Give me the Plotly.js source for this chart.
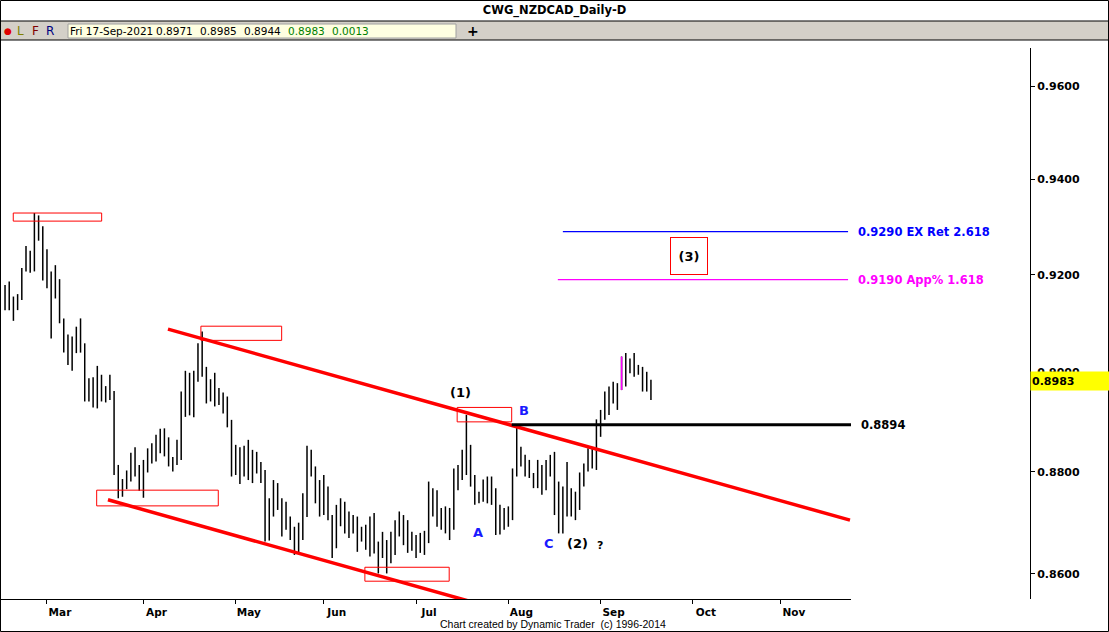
<!DOCTYPE html>
<html><head><meta charset="utf-8">
<script src="https://cdn.plot.ly/plotly-3.0.1.min.js"></script>
<style>html,body{margin:0;padding:0;background:#fff;}#chart{width:1109px;height:632px;}</style>
</head><body><div id="chart"></div>
<script>
// ---- data ----
const dates = [
'2021-02-15','2021-02-16','2021-02-17','2021-02-18','2021-02-19','2021-02-22','2021-02-23','2021-02-24','2021-02-25','2021-02-26',
'2021-03-01','2021-03-02','2021-03-03','2021-03-04','2021-03-05','2021-03-08','2021-03-09','2021-03-10','2021-03-11','2021-03-12',
'2021-03-15','2021-03-16','2021-03-17','2021-03-18','2021-03-19','2021-03-22','2021-03-23','2021-03-24','2021-03-25','2021-03-26',
'2021-03-29','2021-03-30','2021-03-31',
'2021-04-01','2021-04-02','2021-04-05','2021-04-06','2021-04-07','2021-04-08','2021-04-09','2021-04-12','2021-04-13','2021-04-14',
'2021-04-15','2021-04-16','2021-04-19','2021-04-20','2021-04-21','2021-04-22','2021-04-23','2021-04-26','2021-04-27','2021-04-28',
'2021-04-29','2021-04-30',
'2021-05-03','2021-05-04','2021-05-05','2021-05-06','2021-05-07','2021-05-10','2021-05-11','2021-05-12','2021-05-13','2021-05-14',
'2021-05-17','2021-05-18','2021-05-19','2021-05-20','2021-05-21','2021-05-24','2021-05-25','2021-05-26','2021-05-27','2021-05-28',
'2021-05-31',
'2021-06-01','2021-06-02','2021-06-03','2021-06-04','2021-06-07','2021-06-08','2021-06-09','2021-06-10','2021-06-11','2021-06-14',
'2021-06-15','2021-06-16','2021-06-17','2021-06-18','2021-06-21','2021-06-22','2021-06-23','2021-06-24','2021-06-25','2021-06-28',
'2021-06-29','2021-06-30',
'2021-07-01','2021-07-02','2021-07-05','2021-07-06','2021-07-07','2021-07-08','2021-07-09','2021-07-12','2021-07-13','2021-07-14',
'2021-07-15','2021-07-16','2021-07-19','2021-07-20','2021-07-21','2021-07-22','2021-07-23','2021-07-26','2021-07-27','2021-07-28',
'2021-07-29','2021-07-30',
'2021-08-02','2021-08-03','2021-08-04','2021-08-05','2021-08-06','2021-08-09','2021-08-10','2021-08-11','2021-08-12','2021-08-13',
'2021-08-16','2021-08-17','2021-08-18','2021-08-19','2021-08-20','2021-08-23','2021-08-24','2021-08-25','2021-08-26','2021-08-27',
'2021-08-30','2021-08-31',
'2021-09-01','2021-09-02','2021-09-03','2021-09-06','2021-09-07','2021-09-08','2021-09-09','2021-09-10','2021-09-13','2021-09-14',
'2021-09-15','2021-09-16','2021-09-17'
];
const opens = [
.9133,.9130,.9152,.9131,.9149,.9210,.9238,.9234,.9301,.9288,
.9210,.9184,.9203,.9167,.9103,.9058,.9030,.9045,.9079,.9052,
.8951,.8979,.8944,.8966,.8953,.8948,.8961,.8811,.8763,.8776,
.8791,.8811,.8812,
.8769,.8800,.8830,.8837,.8865,.8862,.8849,.8823,.8823,.8840,
.8936,.8990,.8984,.8983,.9039,.9008,.8966,.8964,.8963,.8936,
.8931,.8890,
.8798,.8841,.8830,.8850,.8790,.8837,.8801,.8801,.8676,.8718,
.8763,.8741,.8735,.8702,.8679,.8676,.8674,.8712,.8824,.8794,
.8764,
.8755,.8712,.8712,.8650,.8719,.8725,.8705,.8712,.8702,.8666,
.8666,.8676,.8654,.8650,.8640,.8647,.8621,.8663,.8696,.8679,
.8700,.8650,
.8665,.8645,.8660,.8663,.8733,.8755,.8712,.8705,.8692,.8689,
.8794,.8803,.8840,.8850,.8771,.8748,.8748,.8757,.8771,.8760,
.8692,.8727,
.8700,.8709,.8798,.8850,.8834,.8811,.8794,.8768,.8771,.8766,
.8811,.8825,.8738,.8709,.8712,.8755,.8719,.8738,.8784,.8811,
.8844,.8811,
.8884,.8918,.8922,.8962,.8944,.8964,.8998,.9001,.9015,.9001,
.9005,.8962,.8971
];
const highs = [
.9179,.9186,.9155,.9160,.9214,.9260,.9250,.9329,.9324,.9301,
.9253,.9207,.9220,.9191,.9110,.9077,.9073,.9093,.9110,.9059,
.8988,.8990,.9013,.8995,.8972,.8995,.8962,.8814,.8786,.8803,
.8838,.8849,.8814,
.8824,.8847,.8857,.8874,.8886,.8887,.8869,.8830,.8864,.8961,
.9003,.8999,.9003,.9059,.9083,.9011,.8986,.8999,.8968,.8959,
.8951,.8904,
.8854,.8849,.8852,.8864,.8844,.8840,.8820,.8804,.8748,.8784,
.8778,.8748,.8741,.8712,.8692,.8700,.8758,.8852,.8844,.8811,
.8784,
.8794,.8771,.8715,.8735,.8748,.8741,.8722,.8715,.8712,.8692,
.8696,.8712,.8719,.8663,.8682,.8666,.8682,.8705,.8722,.8715,
.8705,.8682,
.8676,.8680,.8684,.8781,.8768,.8764,.8729,.8732,.8729,.8807,
.8814,.8844,.8914,.8854,.8794,.8761,.8785,.8791,.8791,.8768,
.8735,.8729,
.8732,.8807,.8894,.8850,.8834,.8824,.8798,.8824,.8814,.8824,
.8834,.8840,.8781,.8771,.8820,.8768,.8761,.8799,.8817,.8847,
.8847,.8905,
.8924,.8961,.8971,.8981,.8978,.9032,.9039,.9028,.9039,.9015,
.9011,.9001,.8985
];
const lows = [
.9127,.9127,.9105,.9127,.9148,.9207,.9204,.9207,.9271,.9188,
.9172,.9069,.9151,.9100,.9040,.9015,.9003,.9039,.9040,.8941,
.8941,.8929,.8927,.8941,.8939,.8944,.8794,.8748,.8751,.8766,
.8781,.8791,.8763,
.8749,.8799,.8817,.8821,.8837,.8831,.8811,.8801,.8814,.8824,
.8910,.8913,.8909,.8981,.8991,.8937,.8941,.8931,.8934,.8917,
.8889,.8791,
.8794,.8776,.8791,.8784,.8778,.8797,.8778,.8663,.8665,.8712,
.8725,.8673,.8686,.8666,.8637,.8640,.8666,.8711,.8791,.8738,
.8712,
.8715,.8705,.8631,.8650,.8693,.8679,.8670,.8679,.8643,.8663,
.8647,.8634,.8640,.8601,.8631,.8601,.8621,.8637,.8673,.8656,
.8641,.8645,
.8631,.8641,.8637,.8660,.8712,.8692,.8686,.8679,.8666,.8686,
.8764,.8784,.8794,.8771,.8735,.8738,.8741,.8738,.8735,.8676,
.8677,.8686,
.8692,.8705,.8791,.8811,.8791,.8788,.8768,.8768,.8755,.8764,
.8791,.8715,.8679,.8679,.8712,.8712,.8705,.8725,.8771,.8801,
.8807,.8804,
.8870,.8904,.8914,.8937,.8924,.8964,.8971,.8998,.8991,.8995,
.8961,.8961,.8944
];
const closes = [
.9129,.9153,.9131,.9149,.9206,.9240,.9234,.9303,.9286,.9212,
.9186,.9204,.9169,.9105,.9059,.9028,.9045,.9079,.9058,.8944,
.8979,.8944,.8964,.8952,.8944,.8960,.8812,.8763,.8776,.8791,
.8811,.8813,.8771,
.8799,.8830,.8830,.8865,.8864,.8847,.8817,.8823,.8840,.8936,
.8990,.8988,.8910,.9020,.9069,.9005,.8964,.8956,.8936,.8931,
.8890,.8792,
.8841,.8830,.8847,.8786,.8824,.8801,.8801,.8682,.8718,.8763,
.8763,.8682,.8719,.8679,.8647,.8674,.8712,.8824,.8794,.8739,
.8755,
.8764,.8709,.8650,.8719,.8725,.8705,.8712,.8702,.8666,.8668,
.8676,.8654,.8650,.8640,.8647,.8621,.8663,.8696,.8679,.8700,
.8650,.8665,
.8645,.8660,.8663,.8733,.8755,.8715,.8705,.8692,.8689,.8794,
.8803,.8840,.8850,.8771,.8748,.8748,.8755,.8771,.8760,.8692,
.8727,.8700,
.8712,.8792,.8850,.8834,.8811,.8794,.8768,.8811,.8764,.8807,
.8827,.8738,.8709,.8709,.8771,.8719,.8738,.8784,.8811,.8844,
.8811,.8884,
.8920,.8925,.8964,.8944,.8964,.8998,.9001,.9015,.9001,.9005,
.8962,.8971,.8983
];
const highlightDates = ['2021-09-08'];

const monthTickDates = ['2021-03-01','2021-04-01','2021-05-03','2021-06-01','2021-07-01','2021-08-02','2021-09-01','2021-10-01','2021-11-01'];
const monthLabels = ['Mar','Apr','May','Jun','Jul','Aug','Sep','Oct','Nov'];
const priceTicks = [0.86, 0.88, 0.90, 0.92, 0.94, 0.96];
const priceTickLabels = ['0.8600','0.8800','0.9000','0.9200','0.9400','0.9600'];

// channel trendlines
const upperTrendDates = ['2021-04-09 08:24', '2021-11-23 23:00'];
const upperTrendPrices = [0.9088, 0.8705];
const lowerTrendDates = ['2021-03-22 01:00', '2021-07-20 08:38'];
const lowerTrendPrices = [0.8745, 0.8547];

// horizontal projection levels
const levelValues = [0.9290, 0.9190, 0.8894];
const levelStarts = ['2021-08-19 12:00', '2021-08-18 07:12', '2021-08-03 07:12'];
const levelEnds = ['2021-11-23 12:00', '2021-11-23 12:00', '2021-11-26 12:00'];
const levelTexts = ['0.9290 EX Ret 2.618', '0.9190 App% 1.618', '0.8894'];

// highlight boxes at pivots
const boxStarts = ['2021-02-17 11:00', '2021-04-21 04:48', '2021-03-17 08:24', '2021-06-15 07:12', '2021-07-15 07:12'];
const boxEnds   = ['2021-03-18 13:00', '2021-05-18 11:00', '2021-04-27 08:10', '2021-07-13 09:36', '2021-08-03 07:12'];
const boxTops   = [0.9329, 0.9094, 0.8764, 0.8613, 0.8929];
const boxBottoms= [0.9312, 0.9065, 0.8733, 0.8586, 0.8900];

// wave labels
const waveTexts  = ['(1)', 'A', 'B', 'C', '(2)', '?'];
const waveDates  = ['2021-07-16 00:00', '2021-07-22 07:12', '2021-08-06 04:48', '2021-08-16 04:48', '2021-08-25 02:24', '2021-09-01 08:24'];
const wavePrices = [0.8960, 0.8680, 0.8922, 0.8660, 0.8660, 0.8656];
const waveIsBlue = [false, true, true, true, false, false];
const target3Text = '(3)', target3Date = '2021-09-30 14:24', target3Price = 0.9239;

const lastBar = {date:'Fri 17-Sep-2021', o:'0.8971', h:'0.8985', l:'0.8944', c:'0.8983', chg:'0.0013'};
const lastClose = 0.8983;

// ---- helpers ----
const W = 1109, H = 632, T = 48, B = 33;
const PX = x => x / W;
const PY = y => (H - B - y) / (H - T - B);
const noon = d => d + ' 12:00';
const FONT = 'DejaVu Sans';

const xs = dates.map(noon);
const hiIdx = dates.map((d,i)=>highlightDates.includes(d)?i:-1).filter(i=>i>=0);

const traces = [];
traces.push({
  type:'ohlc', x:xs, open:opens, high:highs, low:lows, close:closes,
  increasing:{line:{color:'#000', width:1.5}}, decreasing:{line:{color:'#000', width:1.5}},
  tickwidth:0.5, hoverinfo:'skip', showlegend:false
});
traces.push({
  type:'ohlc', x:hiIdx.map(i=>xs[i]), open:hiIdx.map(i=>opens[i]), high:hiIdx.map(i=>highs[i]),
  low:hiIdx.map(i=>lows[i]), close:hiIdx.map(i=>closes[i]),
  increasing:{line:{color:'#ff00ff', width:1.5}}, decreasing:{line:{color:'#ff00ff', width:1.5}},
  tickwidth:0.5, hoverinfo:'skip', showlegend:false
});
traces.push({type:'scatter', mode:'lines', x:upperTrendDates, y:upperTrendPrices, line:{color:'#ff0000', width:3.5}, hoverinfo:'skip', showlegend:false});
traces.push({type:'scatter', mode:'lines', x:lowerTrendDates, y:lowerTrendPrices, line:{color:'#ff0000', width:3.5}, hoverinfo:'skip', showlegend:false});
const levelColors = ['#0000ff', '#ff00ff', '#000000'];
const levelWidths = [1.3, 1.3, 3];
levelValues.forEach((v,i)=>{
  traces.push({type:'scatter', mode:'lines', x:[levelStarts[i], levelEnds[i]], y:[v, v],
    line:{color:levelColors[i], width:levelWidths[i]}, hoverinfo:'skip', showlegend:false});
});

const shapes = [];
// chart chrome
shapes.push({type:'rect', xref:'paper', yref:'paper', x0:0, x1:1, y0:PY(40), y1:PY(21), fillcolor:'#d4d0c8', line:{width:0}, layer:'below'});
shapes.push({type:'line', xref:'paper', yref:'paper', x0:0, x1:1, y0:PY(21), y1:PY(21), line:{color:'#000', width:1}});
shapes.push({type:'line', xref:'paper', yref:'paper', x0:0, x1:1, y0:PY(40), y1:PY(40), line:{color:'#000', width:1}});
shapes.push({type:'rect', xref:'paper', yref:'paper', x0:PX(68), x1:PX(456), y0:PY(38), y1:PY(24), fillcolor:'#ffffe1', line:{color:'#a0a0a0', width:1}});
shapes.push({type:'rect', xref:'paper', yref:'paper', x0:PX(0.5), x1:PX(1108.5), y0:PY(631.5), y1:PY(0.5), line:{color:'#000', width:1}});
// pivot boxes
boxStarts.forEach((s,i)=>{
  shapes.push({type:'rect', xref:'x', yref:'y', x0:s, x1:boxEnds[i], y0:boxBottoms[i], y1:boxTops[i],
    line:{color:'#ff0000', width:1}, fillcolor:'rgba(0,0,0,0)'});
});

const L10 = Math.log10;
const ann = [];
waveTexts.forEach((t,i)=>{
  ann.push({xref:'x', yref:'y', x:waveDates[i], y:L10(wavePrices[i]), text:t, showarrow:false,
    font:{family:FONT, size: t==='?'?11:13, weight:'bold', color: waveIsBlue[i]?'#1a1aff':'#000'}});
});
ann.push({xref:'x', yref:'y', x:target3Date, y:L10(target3Price), text:target3Text, showarrow:false,
  font:{family:FONT, size:13, weight:'bold', color:'#000'}, bordercolor:'#ff0000', borderwidth:1, bgcolor:'#fff',
  width:34, height:34, align:'center', valign:'middle'});
levelValues.forEach((v,i)=>{
  ann.push({xref:'paper', yref:'y', x:PX(i===2?859:856), xanchor:'left', y:L10(v), yanchor:'middle', text:levelTexts[i],
    showarrow:false, font:{family:FONT, size:11.5, weight:'bold', color:levelColors[i]}});
});
// current price flag (covers the lower half of the 0.9000 tick label, as in the original)
ann.push({xref:'paper', yref:'y', x:PX(1030), xanchor:'left', y:L10(lastClose), yanchor:'middle', text:lastClose.toFixed(4),
  showarrow:false, bgcolor:'#ffff00', width:76, height:16, align:'left', borderpad:1,
  font:{family:FONT, size:11, weight:'bold', color:'#000'}});
// toolbar
const tb = (x, text, color, size, weight) => ann.push({xref:'paper', yref:'paper', x:PX(x), xanchor:'left', y:PY(31), yanchor:'middle',
  text, showarrow:false, borderpad:0, font:{family:FONT, size:size||10.5, color:color||'#000', weight:weight||'normal'}});
tb(3, '●', '#e00000', 9);
tb(16, 'L', '#808000', 12);
tb(31, 'F', '#800000', 12);
tb(45, 'R', '#000080', 12);
tb(69, lastBar.date);
tb(155, lastBar.o);
tb(199, lastBar.h);
tb(243, lastBar.l);
tb(287, lastBar.c, '#008000');
tb(331, lastBar.chg, '#008000');
tb(466, '+', '#000', 14, 'bold');
// footer
ann.push({xref:'paper', yref:'paper', x:PX(553), y:PY(623.5), yanchor:'middle', text:'Chart created by Dynamic Trader&nbsp;&nbsp;(c) 1996-2014',
  showarrow:false, borderpad:0, font:{family:'Liberation Sans Narrow, Liberation Sans', size:10.5, color:'#000'}});

const layout = {
  width:W, height:H, margin:{l:0, r:0, t:T, b:B, pad:0},
  paper_bgcolor:'#ffffff', plot_bgcolor:'#ffffff',
  title:{text:'CWG_NZDCAD_Daily-D', font:{family:FONT, size:11.5, weight:'bold', color:'#000'},
    x:0.5, xanchor:'center', xref:'paper', y:1-10/H, yanchor:'middle', yref:'container'},
  showlegend:false, hovermode:false, dragmode:false,
  xaxis:{type:'date', domain:[0, 851/W], range:['2021-02-12 07:12','2021-11-24 04:48'],
    rangebreaks:[{bounds:['sat','mon']}], rangeslider:{visible:false},
    tickmode:'array', tickvals:monthTickDates.map(noon), ticktext:monthLabels,
    ticks:'outside', ticklen:4, tickcolor:'#000', ticklabelshift:13, ticklabelstandoff:-1,
    showline:true, linecolor:'#000', linewidth:1, showgrid:false, zeroline:false, fixedrange:true,
    tickfont:{family:FONT, size:10.5, weight:'bold', color:'#000'}},
  yaxis:{type:'log', range:[-0.067953, -0.014008], anchor:'free', position:1030/W, side:'right',
    tickmode:'array', tickvals:priceTicks, ticktext:priceTickLabels,
    ticks:'outside', ticklen:4, tickcolor:'#000', showline:true, linecolor:'#000', linewidth:1,
    showgrid:false, zeroline:false, fixedrange:true,
    tickfont:{family:FONT, size:11, weight:'bold', color:'#000'}},
  shapes, annotations:ann
};
Plotly.newPlot('chart', traces, layout, {staticPlot:true, displayModeBar:false});
</script></body></html>
